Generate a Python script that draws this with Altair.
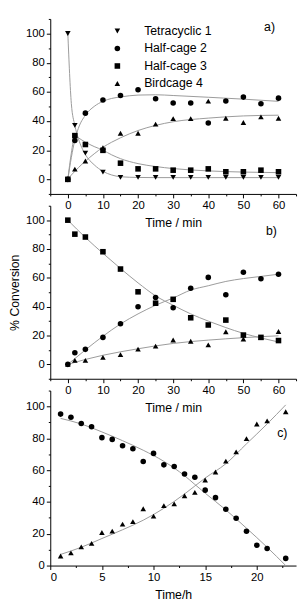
import altair as alt
import pandas as pd

FONT = "Liberation Sans"

# ---------------- Panel a (time / min) ----------------
t_a = [0, 2, 5, 10, 15, 20, 25, 30, 35, 40, 45, 50, 55, 60]
a_tetra = [100, 37, 18, 5, 1.3, 1.3, 1.3, 1.3, 1.3, 1.3, 1.3, 1.3, 1.3, 1.3]
a_half2 = [0, 26.6, 45.4, 54.4, 57.5, 61.4, 55.3, 52.3, 52.3, 38.6, 53.7, 56.4, 51.9, 55.7]
a_half3 = [0, 30, 23.9, 19.9, 11.1, 7.2, 7.2, 6.3, 6.3, 7.2, 5.2, 5.2, 6.3, 5.2]
a_bird4 = [0, 7, 12.6, 21.7, 31.6, 31.6, 37.9, 41.7, 41.7, 53.7, 41.9, 39, 42.9, 41.9]

fit_t_a = [0, 1, 2, 3, 5, 7.5, 10, 12.5, 15, 20, 25, 30, 40, 50, 60]
fit_a_tetra = [100, 52, 37, 28, 17, 10, 5.5, 3, 1.8, 1.3, 1.2, 1.2, 1.2, 1.2, 1.2]
fit_a_half2 = [0, 15, 27, 35, 44, 50, 53.5, 55.5, 56.5, 57.8, 58, 57.5, 56.3, 55, 53.5]
fit_a_half3 = [0, 18, 30, 28.5, 25.5, 22.5, 20, 16.8, 14.2, 10.8, 8.8, 7.4, 5.8, 5, 4.6]
fit_a_bird4 = [0, 3, 5.5, 8, 12.5, 17.5, 22, 25.5, 28.5, 33.5, 37, 39.5, 42, 43.5, 44]

# ---------------- Panel b (time / min) ----------------
t_b = [0, 2, 5, 10, 15, 20, 25, 30, 35, 40, 45, 50, 55, 60]
b_half3 = [100, 90.3, 88.3, 78.1, 66.1, 50.3, 42.4, 45.1, 32.3, 27.3, 30.7, 20.3, 18.7, 16.5]
b_half2 = [0, 8.1, 10.4, 18.7, 28.2, 40, 46.3, 39.3, 52.8, 60.3, 48.3, 63.9, 59.4, 62.5]
b_bird4 = [0, 2.7, 2.7, 4.9, 6.8, 10.6, 12.6, 16.9, 16, 13.5, 22.6, 17.6, 18.7, 22.8]

fit_t_b = [0, 5, 10, 15, 20, 25, 30, 35, 40, 45, 50, 55, 60]
fit_b_half3 = [100, 88, 77, 66.5, 56.5, 47.5, 41, 35, 30, 25.5, 21.5, 18.3, 15.5]
fit_b_half2 = [0, 10, 19.5, 28, 35, 41, 46, 51.5, 54.5, 57.5, 59.5, 61, 62.5]
fit_b_bird4 = [0, 3.4, 6.3, 8.7, 10.8, 12.8, 14.5, 15.8, 16.8, 17.7, 18.5, 19.2, 19.8]

# ---------------- Panel c (time / h) ----------------
t_c = [1, 2, 3, 4, 5, 6, 7, 8, 9, 10, 11, 12, 13, 14, 15, 16, 17, 18, 19, 20, 21, 22.8]
c_circ = [95.2, 93.2, 89.3, 87.2, 80.4, 79.3, 75.3, 73.4, 65.4, 70.5, 63.3, 62.3,
          57.5, 55.5, 47.4, 42.7, 35.4, 29.7, 21.6, 12.8, 10.7, 4.5]
c_tri = [6, 8, 11.7, 14, 20.8, 21.6, 26, 27.6, 35.7, 31.1, 37.7, 38.8,
         43.9, 46, 53.8, 58.8, 65.7, 71.5, 79.8, 89, 90.9, 96.7]

fit_t_c = [1, 3, 5, 7, 9, 11, 13, 14, 15, 17, 19, 21, 22.8]
fit_c_circ = [92.5, 89, 84, 78.5, 72.5, 65.5, 56.5, 51, 45.5, 35, 23.5, 11.5, 0]
fit_c_tri = [7, 11.5, 17, 22.5, 28.5, 36, 45, 50, 55, 64, 76.5, 89, 101]

series_names = ["Tetracyclic 1", "Half-cage 2", "Half-cage 3", "Birdcage 4"]
series_shapes = ["triangle-down", "circle", "square", "triangle-up"]

panel_labels = ["a)", "b)", "c)"]

y_major = [0, 20, 40, 60, 80, 100]
y_minor = [-10, 10, 30, 50, 70, 90, 110]
min_major = [0, 10, 20, 30, 40, 50, 60]
min_minor = [-5, 5, 15, 25, 35, 45, 55, 65]
h_major = [0, 5, 10, 15, 20]
h_minor = [2.5, 7.5, 12.5, 17.5, 22.5]


def long(x, d):
    rows = []
    for name, vals in d.items():
        for xi, v in zip(x, vals):
            rows.append({"x": xi, "y": v, "series": name})
    return pd.DataFrame(rows)


def panel(pts, fits, xdom, xvals, xminor, xtitle, ydom, yminor, ytitle, height, idx, lab_px, legend):
    xs = alt.Scale(domain=xdom, nice=False, zero=False)
    ys = alt.Scale(domain=ydom, nice=False, zero=False)
    xax = alt.Axis(values=xvals, title=xtitle, labelOverlap=False, orient="bottom", format="d")
    yax = alt.Axis(values=y_major, title=ytitle, labelOverlap=False, orient="left", format="d")
    X = alt.X("x:Q", scale=xs, axis=xax, title=xtitle)
    Y = alt.Y("y:Q", scale=ys, axis=yax, title=ytitle)
    lines = alt.Chart(fits).mark_line(color="#9a9a9a", strokeWidth=1, interpolate="monotone").encode(
        x=X, y=Y, detail="series:N",
    )
    if legend:
        leg = alt.Legend(orient="none", legendX=62, legendY=6, title=None,
                         labelFont=FONT, labelFontSize=12.5, labelColor="black",
                         symbolFillColor="black", symbolStrokeColor="black",
                         symbolSize=32, labelOffset=21, rowPadding=4.8, padding=0)
    else:
        leg = None
    pts_chart = alt.Chart(pts).mark_point(filled=True, color="black", size=32, opacity=1).encode(
        x=X, y=Y,
        shape=alt.Shape("series:N", scale=alt.Scale(domain=series_names, range=series_shapes),
                        legend=leg, sort=series_names),
    )
    txt = alt.Chart(pd.DataFrame({"t": [panel_labels[idx]]})).mark_text(
        font=FONT, fontSize=12.5, color="black", align="center", baseline="middle"
    ).encode(x=alt.value(lab_px[0]), y=alt.value(lab_px[1]), text="t:N")
    main = alt.layer(lines, pts_chart, txt)
    minor = alt.Chart(fits).mark_point(opacity=0).encode(
        x=alt.X("x:Q", scale=xs, axis=alt.Axis(values=xminor, labels=False, domain=False, title=None,
                                              tickSize=2, orient="bottom")),
        y=alt.Y("y:Q", scale=ys, axis=alt.Axis(values=yminor, labels=False, domain=False, title=None,
                                              tickSize=2, orient="left")),
    )
    return alt.layer(main, minor).resolve_axis(x="independent", y="independent").properties(
        width=250, height=height)


pa = panel(
    long(t_a, {"Tetracyclic 1": a_tetra, "Half-cage 2": a_half2, "Half-cage 3": a_half3, "Birdcage 4": a_bird4}),
    long(fit_t_a, {"Tetracyclic 1": fit_a_tetra, "Half-cage 2": fit_a_half2, "Half-cage 3": fit_a_half3, "Birdcage 4": fit_a_bird4}),
    [-5, 65], min_major, min_minor, "Time / min", [-10, 110], y_minor, None, 178, 0, (223, 8), True,
)
pb = panel(
    long(t_b, {"Half-cage 3": b_half3, "Half-cage 2": b_half2, "Birdcage 4": b_bird4}),
    long(fit_t_b, {"Half-cage 3": fit_b_half3, "Half-cage 2": fit_b_half2, "Birdcage 4": fit_b_bird4}),
    [-5, 65], min_major, min_minor, "Time / min", [-10, 110], y_minor, "% Conversion", 176, 1, (225, 26), False,
)
pc = panel(
    long(t_c, {"Half-cage 2": c_circ, "Birdcage 4": c_tri}),
    long(fit_t_c, {"Half-cage 2": fit_c_circ, "Birdcage 4": fit_c_tri}),
    [0, 23.8], h_major, h_minor, "Time/h", [0, 110], [10, 30, 50, 70, 90, 110], None, 178, 2, (236, 43), False,
)

chart = alt.vconcat(pa, pb, pc, spacing=12, bounds="flush").resolve_scale(
    shape="independent"
).properties(
    padding={"left": 0, "top": 5, "right": 2, "bottom": 0}
).configure_view(stroke=None).configure_axis(
    grid=False, domainColor="black", tickColor="black", labelColor="black", titleColor="black",
    labelFont=FONT, titleFont=FONT, labelFontSize=11.5, titleFontSize=12.5, titleFontWeight="normal",
    tickSize=4, labelPadding=2, domainWidth=1, labelOverlap=False,
).configure_axisY(titlePadding=4).configure_axisX(titlePadding=6)

chart.save("out.html", embed_options={"renderer": "svg", "actions": False})
